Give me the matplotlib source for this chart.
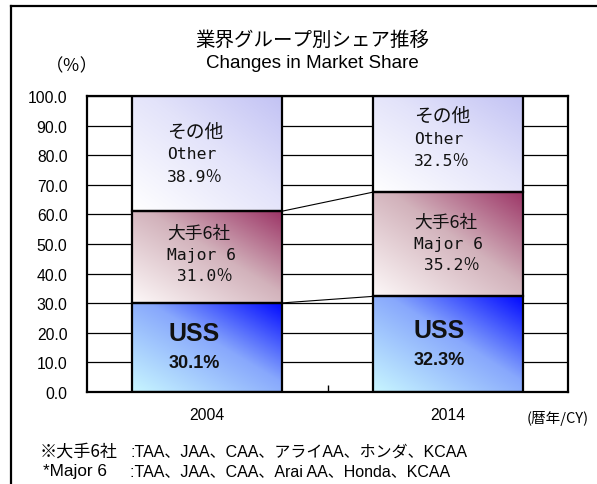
import numpy as np
import matplotlib
matplotlib.use("Agg")
import matplotlib.pyplot as plt
from matplotlib.colors import LinearSegmentedColormap
from matplotlib.lines import Line2D

# ---------------- data ----------------
years = ["2004", "2014"]
uss = [30.1, 32.3]
major6 = [31.0, 35.2]
other = [38.9, 32.5]
yticks = [0, 10, 20, 30, 40, 50, 60, 70, 80, 90, 100]

title_jp = "業界グループ別シェア推移"
title_en = "Changes in Market Share"
unit_label = "（％）"
xunit_label = "(暦年/CY)"
note_jp_head = "※大手6社"
note_jp_body = ":TAA、JAA、CAA、アライAA、ホンダ、KCAA"
note_en_head = "*Major 6"
note_en_body = ":TAA、JAA、CAA、Arai AA、Honda、KCAA"

# ---------------- style ----------------
W, H = 597, 485
DPI = 100
fig = plt.figure(figsize=(W / DPI, H / DPI), dpi=DPI)
ax = fig.add_axes([87 / W, 1 - 393 / H, (568 - 87) / W, (393 - 97) / H])

SANS = ["Liberation Sans", "Noto Sans CJK JP"]
JP = ["Noto Sans CJK JP", "DejaVu Sans"]
MONO = ["DejaVu Sans Mono", "Noto Sans CJK JP"]

bar_w = 0.624
x = np.arange(len(years))

cm_uss = LinearSegmentedColormap.from_list("uss", [(0, "#c8f6ff"), (0.55, "#88a8fc"), (1, "#0008ff")])
cm_maj = LinearSegmentedColormap.from_list("maj", [(0, "#fdf8f8"), (0.55, "#d2b2bb"), (1, "#9c3466")])
cm_oth = LinearSegmentedColormap.from_list("oth", [(0, "#ffffff"), (0.55, "#e3e3fa"), (1, "#c2c2f4")])

uu, vv = np.meshgrid(np.linspace(0, 1, 200), np.linspace(0, 1, 200))
grad = (uu + vv) / 2.0


def grad_bar(xc, bottom, height, cmap):
    x0, x1 = xc - bar_w / 2, xc + bar_w / 2
    ax.imshow(grad, cmap=cmap, extent=[x0, x1, bottom, bottom + height],
              origin="lower", aspect="auto", zorder=2, interpolation="bilinear")
    ax.bar(xc, height, bar_w, bottom=bottom, facecolor="none",
           edgecolor="black", linewidth=1.6, zorder=3)


bottoms_maj = [u for u in uss]
bottoms_oth = [u + m for u, m in zip(uss, major6)]
for i in range(len(years)):
    grad_bar(x[i], 0, uss[i], cm_uss)
    grad_bar(x[i], bottoms_maj[i], major6[i], cm_maj)
    grad_bar(x[i], bottoms_oth[i], other[i], cm_oth)

# connector lines
for tops in (uss, bottoms_oth):
    ax.plot([x[0] + bar_w / 2, x[1] - bar_w / 2], [tops[0], tops[1]],
            color="black", lw=0.8, zorder=2.5)

ax.set_xlim(-0.5, 1.5)
ax.set_ylim(0, 100)
ax.set_yticks(yticks)
ax.set_yticklabels([f"{v:.1f}" for v in yticks], fontfamily=SANS, fontsize=11.3)
ax.yaxis.grid(True, color="black", lw=0.9, zorder=0)
ax.set_axisbelow(True)
ax.tick_params(axis="y", length=0, pad=14)
ax.set_xticks(x)
ax.set_xticklabels(years, fontfamily=SANS, fontsize=11.3)
ax.tick_params(axis="x", length=0, pad=11)
ax.set_xticks([0.5], minor=True)
ax.tick_params(axis="x", which="minor", direction="in", length=5, width=1)
for s in ax.spines.values():
    s.set_linewidth(1.6)
    s.set_color("black")


def px2pt(p):
    return p * 72.0 / DPI


# label texts inside bars
lab_dx = [-40, -34]
oth_dy = [0, -6]
maj_dy = [-3, -1]
for i in range(len(years)):
    # Other
    c = bottoms_oth[i] + other[i] / 2
    for k, (t, fam, fs) in enumerate([("その他", JP, 13.5), ("Other", MONO, 11.8),
                                      (f"{other[i]:.1f}％", MONO, 11.8)]):
        ax.annotate(t, (x[i], c), xytext=(px2pt(lab_dx[i]), -px2pt(oth_dy[i] + (k - 1) * 22.5)),
                    textcoords="offset points", ha="left", va="center",
                    fontfamily=fam, fontsize=fs, color="#111111", zorder=5)
    # Major 6
    c = bottoms_maj[i] + major6[i] / 2
    for k, (t, fam, fs) in enumerate([("大手6社", JP, 12.8), ("Major 6", MONO, 11.8),
                                      (f" {major6[i]:.1f}％", MONO, 11.8)]):
        ax.annotate(t, (x[i], c), xytext=(px2pt(lab_dx[i]), -px2pt(maj_dy[i] + (k - 1) * 21.5)),
                    textcoords="offset points", ha="left", va="center",
                    fontfamily=fam, fontsize=fs, color="#111111", zorder=5)

uss_dx = [-13, -9]
for i in range(len(years)):
    c = uss[i] / 2
    ax.annotate("USS", (x[i], c), xytext=(px2pt(uss_dx[i]), px2pt(14)),
                textcoords="offset points", ha="center", va="center",
                fontfamily=SANS, fontsize=18, fontweight="bold", color="#111111", zorder=5)
    ax.annotate(f"{uss[i]:.1f}%", (x[i], c), xytext=(px2pt(uss_dx[i]), -px2pt(15)),
                textcoords="offset points", ha="center", va="center",
                fontfamily=SANS, fontsize=13, fontweight="bold", color="#111111", zorder=5)

# titles and other text
fig.text(312 / W, 1 - 40 / H, title_jp, ha="center", va="center", fontfamily=JP, fontsize=14)
fig.text(312 / W, 1 - 63 / H, title_en, ha="center", va="center", fontfamily=SANS, fontsize=13.5)
fig.text(72 / W, 1 - 66 / H, unit_label, ha="center", va="center", fontfamily=JP, fontsize=12.5)
fig.text(527 / W, 1 - 418 / H, xunit_label, ha="left", va="center", fontfamily=JP, fontsize=10.5)

fig.text(40 / W, 1 - 452 / H, note_jp_head, ha="left", va="center", fontfamily=JP, fontsize=12.3)
fig.text(130 / W, 1 - 452 / H, note_jp_body, ha="left", va="center", fontfamily=SANS, fontsize=11.5)
fig.text(43 / W, 1 - 472 / H, note_en_head, ha="left", va="center", fontfamily=SANS, fontsize=12.3)
fig.text(130 / W, 1 - 472 / H, note_en_body, ha="left", va="center", fontfamily=SANS, fontsize=11.5)

# outer frame (left and top edges)
fl, ft = 11 / W, 1 - 7 / H
fig.add_artist(Line2D([fl, fl], [0, ft], color="black", lw=1.6, transform=fig.transFigure))
fig.add_artist(Line2D([fl, 1], [ft, ft], color="black", lw=1.6, transform=fig.transFigure))

fig.savefig("out.png", dpi=DPI)
